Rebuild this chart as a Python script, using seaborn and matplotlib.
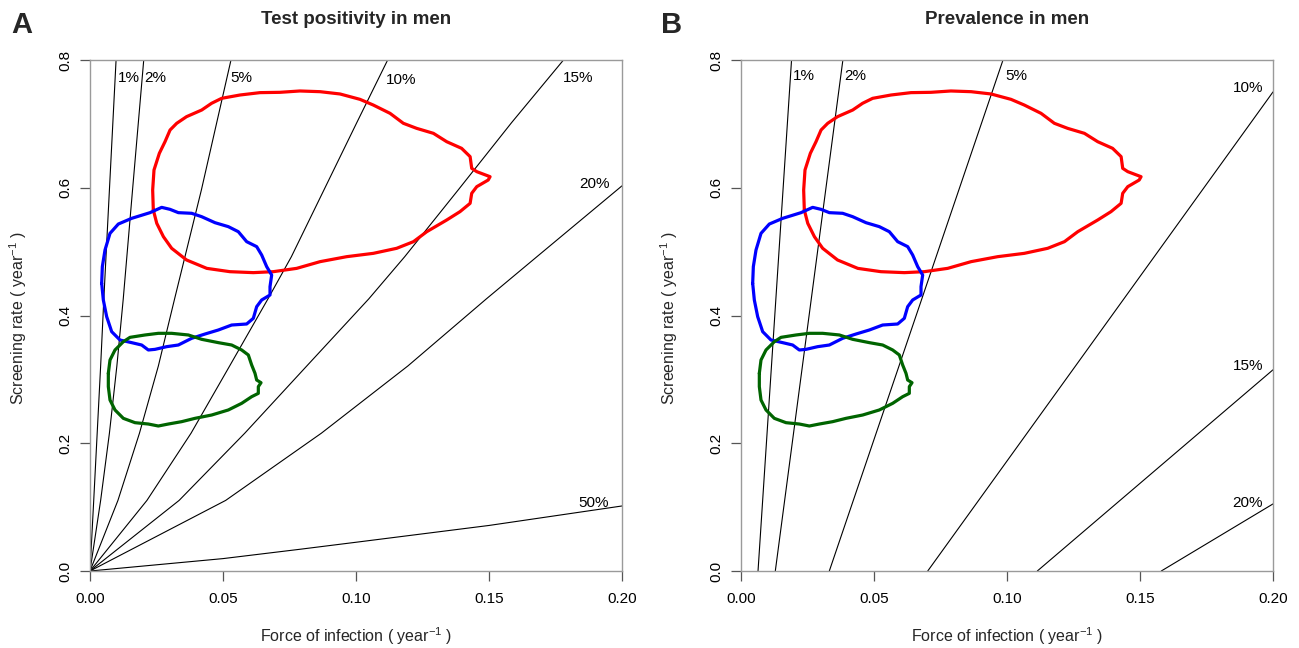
import numpy as np
import pandas as pd
import matplotlib
matplotlib.use("Agg")
import matplotlib.pyplot as plt
import seaborn as sns

sns.set_theme(style="white")
plt.rcParams["font.family"] = ["Liberation Sans", "DejaVu Sans"]
plt.rcParams["mathtext.fontset"] = "custom"
plt.rcParams["mathtext.rm"] = "Liberation Sans"

# ---------------- data ----------------
# Panel A: test-positivity isolines (force of infection x, screening rate y)
tp_labels = ["1%", "2%", "5%", "10%", "15%", "20%", "50%"]
tp_x = {
    "1%":  [0.0, 0.0014, 0.0027, 0.0040, 0.0052, 0.0098],
    "2%":  [0.0, 0.0040, 0.0073, 0.0101, 0.0125, 0.0160, 0.0202],
    "5%":  [0.0, 0.0105, 0.0186, 0.0257, 0.0318, 0.0419, 0.0530],
    "10%": [0.0, 0.0214, 0.0380, 0.0525, 0.0669, 0.0757, 0.0880, 0.1003, 0.1119],
    "15%": [0.0, 0.0335, 0.0582, 0.0815, 0.1048, 0.1183, 0.1385, 0.1585, 0.1780],
    "20%": [0.0, 0.0510, 0.0870, 0.1195, 0.1490, 0.1680, 0.2000],
    "50%": [0.0, 0.0500, 0.0789, 0.1000, 0.1500, 0.2000],
}
tp_y = {
    "1%":  [0.0, 0.1105, 0.2158, 0.321, 0.426, 0.8],
    "2%":  [0.0, 0.1105, 0.2158, 0.321, 0.426, 0.597, 0.8],
    "5%":  [0.0, 0.1105, 0.2158, 0.321, 0.426, 0.597, 0.8],
    "10%": [0.0, 0.1105, 0.2158, 0.321, 0.426, 0.492, 0.597, 0.702, 0.8],
    "15%": [0.0, 0.1105, 0.2158, 0.321, 0.426, 0.492, 0.597, 0.702, 0.8],
    "20%": [0.0, 0.1105, 0.2158, 0.321, 0.426, 0.492, 0.603],
    "50%": [0.0, 0.0194, 0.0340, 0.0450, 0.0713, 0.1018],
}
tp_label_x = [0.0146, 0.0246, 0.0568, 0.117, 0.1835, 0.1895, 0.1895]
tp_label_y = [0.772, 0.772, 0.772, 0.769, 0.772, 0.606, 0.106]

# Panel B: prevalence isolines (straight segments)
pv_labels = ["1%", "2%", "5%", "10%", "15%", "20%"]
pv_x0 = [0.0064, 0.0129, 0.0332, 0.0702, 0.1114, 0.158]
pv_y0 = [0.0, 0.0, 0.0, 0.0, 0.0, 0.0]
pv_x1 = [0.019, 0.0383, 0.0985, 0.2, 0.2, 0.2]
pv_y1 = [0.8, 0.8, 0.8, 0.75, 0.315, 0.105]
pv_label_x = [0.0235, 0.0431, 0.1036, 0.1906, 0.1906, 0.1906]
pv_label_y = [0.775, 0.775, 0.775, 0.756, 0.321, 0.106]

# Contours (same in both panels)
red_x = [0.0238, 0.02356, 0.02406, 0.02607, 0.0282, 0.0301, 0.0326, 0.0363, 0.0420, 0.0457,
         0.0495, 0.0564, 0.0639, 0.0714, 0.0789, 0.0865, 0.0940, 0.1015, 0.1065, 0.1128,
         0.1178, 0.1228, 0.1291, 0.1341, 0.1397, 0.1429, 0.1435, 0.1454, 0.1504, 0.1497,
         0.1454, 0.1435, 0.1429, 0.1391, 0.1341, 0.1266, 0.1216, 0.1153, 0.1065, 0.0965,
         0.0865, 0.0777, 0.0689, 0.0614, 0.0526, 0.0439, 0.0363, 0.0307, 0.0276, 0.0251]
red_y = [0.5652, 0.5965, 0.6278, 0.6539, 0.6721, 0.6904, 0.7009, 0.7113, 0.7217, 0.7322,
         0.7400, 0.7452, 0.7489, 0.7494, 0.7515, 0.7504, 0.7468, 0.7384, 0.7295, 0.7165,
         0.7009, 0.6930, 0.6852, 0.6721, 0.6617, 0.6487, 0.6304, 0.6252, 0.6173, 0.6121,
         0.6017, 0.5913, 0.5756, 0.5626, 0.5495, 0.5312, 0.5156, 0.5052, 0.4973, 0.4921,
         0.4843, 0.4738, 0.4686, 0.4671, 0.4686, 0.4738, 0.4869, 0.5052, 0.5234, 0.5443]

blue_x = [0.00439, 0.00464, 0.00564, 0.00752, 0.01065, 0.01566, 0.02256, 0.02694, 0.03008, 0.03321,
          0.03822, 0.04198, 0.04699, 0.0520, 0.05576, 0.0589, 0.06266, 0.06454, 0.06642, 0.0683,
          0.06767, 0.06767, 0.06454, 0.06266, 0.0614, 0.0589, 0.05326, 0.04825, 0.04323, 0.03822,
          0.03321, 0.02882, 0.02444, 0.02193, 0.01942, 0.01566, 0.01128, 0.00815, 0.00627, 0.00501]
blue_y = [0.4504, 0.4765, 0.5025, 0.5286, 0.5432, 0.5521, 0.5610, 0.5693, 0.5662, 0.5610,
          0.5600, 0.5547, 0.5453, 0.5391, 0.5312, 0.5156, 0.5078, 0.4947, 0.4765, 0.4634,
          0.4451, 0.4321, 0.4243, 0.4138, 0.3956, 0.3867, 0.3851, 0.3773, 0.3710, 0.3643,
          0.3538, 0.3512, 0.3470, 0.3460, 0.3538, 0.3575, 0.3616, 0.3747, 0.3982, 0.4243]

green_x = [0.00689, 0.00752, 0.0094, 0.01253, 0.01504, 0.02068, 0.02569, 0.0307, 0.03697, 0.04198,
           0.04825, 0.05326, 0.05702, 0.05952, 0.06078, 0.06203, 0.06266, 0.06429, 0.06328, 0.06328,
           0.06078, 0.05702, 0.0520, 0.04574, 0.03947, 0.03446, 0.02945, 0.02569, 0.02193, 0.01692,
           0.01253, 0.0094, 0.00752, 0.00689]
green_y = [0.3095, 0.3303, 0.3460, 0.3590, 0.3658, 0.3695, 0.3721, 0.3721, 0.3695, 0.3627,
           0.3575, 0.3538, 0.3460, 0.3382, 0.3225, 0.3095, 0.2990, 0.2948, 0.2886, 0.2781,
           0.2729, 0.2625, 0.2521, 0.2442, 0.2390, 0.2338, 0.2301, 0.2270, 0.2301, 0.2322,
           0.2390, 0.2521, 0.2677, 0.2886]

x_ticks = [0.0, 0.05, 0.10, 0.15, 0.20]
x_ticklabels = ["0.00", "0.05", "0.10", "0.15", "0.20"]
y_ticks = [0.0, 0.2, 0.4, 0.6, 0.8]
y_ticklabels = ["0.0", "0.2", "0.4", "0.6", "0.8"]

# ---------------- build tables ----------------
rows = []
for lab in tp_labels:
    for xv, yv in zip(tp_x[lab], tp_y[lab]):
        rows.append((lab, xv, yv))
tp_df = pd.DataFrame(rows, columns=["iso", "x", "y"])

rows = []
for lab, a, b, c, d in zip(pv_labels, pv_x0, pv_y0, pv_x1, pv_y1):
    rows.append((lab, a, b))
    rows.append((lab, c, d))
pv_df = pd.DataFrame(rows, columns=["iso", "x", "y"])

def closed(xs, ys, name):
    xs = list(xs) + [xs[0]]
    ys = list(ys) + [ys[0]]
    return pd.DataFrame({"x": xs, "y": ys, "grp": name})

cont_df = pd.concat([closed(red_x, red_y, "red"),
                     closed(blue_x, blue_y, "blue"),
                     closed(green_x, green_y, "green")], ignore_index=True)
cont_colors = {"red": "#FF0000", "blue": "#0000FF", "green": "#006400"}

# ---------------- figure ----------------
W, H = 1299, 648
fig = plt.figure(figsize=(W / 100, H / 100), dpi=100)
axA = fig.add_axes([90 / W, 1 - 571 / H, 532 / W, 511 / H])
axB = fig.add_axes([741 / W, 1 - 571 / H, 532 / W, 511 / H])

sns.lineplot(data=tp_df, x="x", y="y", units="iso", estimator=None, sort=False,
             color="black", lw=0.8, ax=axA, legend=False)
sns.lineplot(data=pv_df, x="x", y="y", units="iso", estimator=None, sort=False,
             color="black", lw=0.8, ax=axB, legend=False)

for ax in (axA, axB):
    sns.lineplot(data=cont_df, x="x", y="y", hue="grp", units="grp", estimator=None,
                 sort=False, palette=cont_colors, lw=2.3, ax=ax, legend=False)

for lab, lx, ly in zip(tp_labels, tp_label_x, tp_label_y):
    axA.text(lx, ly, lab, ha="center", va="center", fontsize=11, color="black")
for lab, lx, ly in zip(pv_labels, pv_label_x, pv_label_y):
    axB.text(lx, ly, lab, ha="center", va="center", fontsize=11, color="black")

for ax in (axA, axB):
    ax.set_xlim(0, 0.2)
    ax.set_ylim(0, 0.8)
    ax.set_xticks(x_ticks)
    ax.set_xticklabels(x_ticklabels)
    ax.set_yticks(y_ticks)
    ax.set_yticklabels(y_ticklabels, rotation=90, va="center")
    ax.set_xlabel("")
    ax.set_ylabel("")
    ax.tick_params(axis="both", direction="out", length=7, width=0.9, color="#555555",
                   labelsize=11, labelcolor="black", bottom=True, left=True)
    ax.tick_params(axis="x", pad=8)
    ax.tick_params(axis="y", pad=6)
    for s in ax.spines.values():
        s.set_visible(True)
        s.set_color("#9a9a9a")
        s.set_linewidth(1.0)
    ax.set_facecolor("white")

# titles, panel letters, axis labels
for ax, title in ((axA, "Test positivity in men"), (axB, "Prevalence in men")):
    pos = ax.get_position()
    cx = (pos.x0 + pos.x1) / 2
    fig.text(cx, 1 - 20 / H, title, ha="center", va="center", fontsize=13.5, fontweight="bold")
    fig.text(cx, 1 - 636 / H, r"Force of infection ( year$^{-1}$ )", ha="center", va="center",
             fontsize=11.5)
fig.text(22 / W, 1 - 25 / H, "A", ha="center", va="center", fontsize=21, fontweight="bold")
fig.text(672 / W, 1 - 25 / H, "B", ha="center", va="center", fontsize=21, fontweight="bold")
fig.text(18 / W, 1 - 318 / H, r"Screening rate ( year$^{-1}$ )", rotation=90, ha="center",
         va="center", fontsize=11.5)
fig.text(669 / W, 1 - 318 / H, r"Screening rate ( year$^{-1}$ )", rotation=90, ha="center",
         va="center", fontsize=11.5)

fig.savefig("out.png", dpi=100, facecolor="white")
